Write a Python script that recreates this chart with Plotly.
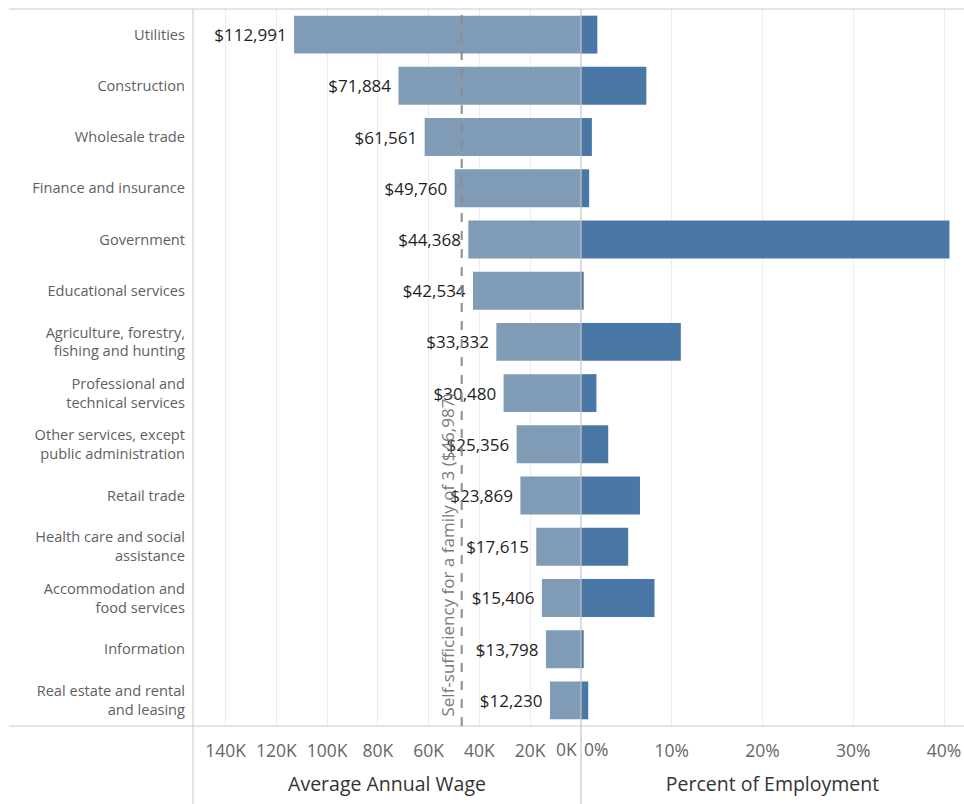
import plotly.graph_objects as go
from plotly.subplots import make_subplots

# Industries, top to bottom
industries = [
    "Utilities",
    "Construction",
    "Wholesale trade",
    "Finance and insurance",
    "Government",
    "Educational services",
    "Agriculture, forestry,<br>fishing and hunting",
    "Professional and<br>technical services",
    "Other services, except<br>public administration",
    "Retail trade",
    "Health care and social<br>assistance",
    "Accommodation and<br>food services",
    "Information",
    "Real estate and rental<br>and leasing",
]

# Average annual wage (USD)
avg_wage = [112991, 71884, 61561, 49760, 44368, 42534, 33332,
            30480, 25356, 23869, 17615, 15406, 13798, 12230]

# Share of total employment (%)
pct_employment = [1.8, 7.2, 1.2, 0.9, 40.6, 0.3, 11.0,
                  1.7, 3.0, 6.5, 5.2, 8.1, 0.3, 0.8]

# Self-sufficiency wage for a family of three
self_sufficiency = 46987

wage_ticks = [140000, 120000, 100000, 80000, 60000, 40000, 20000]
wage_ticktext = ["140K", "120K", "100K", "80K", "60K", "40K", "20K"]
pct_ticks = [10, 20, 30, 40]
pct_ticktext = ["10%", "20%", "30%", "40%"]

WAGE_COLOR = "#7f9bb5"
EMP_COLOR = "#4a78a6"
FONT = "Open Sans"

split = 388 / 771

fig = make_subplots(rows=1, cols=2, shared_yaxes=True, horizontal_spacing=0,
                    column_widths=[split, 1 - split])

fig.add_trace(go.Bar(
    y=industries, x=avg_wage, orientation="h",
    marker=dict(color=WAGE_COLOR, line=dict(width=0)),
    text=[f"${v:,}\u00a0" for v in avg_wage], textposition="outside",
    textfont=dict(family=FONT, size=17, color="#1e1e1e"),
    cliponaxis=False, hoverinfo="skip",
), row=1, col=1)

fig.add_trace(go.Bar(
    y=industries, x=pct_employment, orientation="h",
    marker=dict(color=EMP_COLOR, line=dict(width=0)),
    hoverinfo="skip",
), row=1, col=2)

fig.update_layout(
    width=964, height=804,
    margin=dict(l=193, r=0, t=9, b=78),
    paper_bgcolor="white", plot_bgcolor="white",
    showlegend=False, bargap=0.26,
    font=dict(family=FONT, color="#555"),
)

fig.update_yaxes(
    autorange="reversed", showgrid=False, zeroline=False,
    tickfont=dict(family=FONT, size=14.6, color="#5f5f5f"),
    ticklabelstandoff=7, ticks="",
)
fig.update_yaxes(showticklabels=False, row=1, col=2)

axis_common = dict(
    showgrid=True, gridcolor="#ececec", gridwidth=1, zeroline=False,
    showline=False, ticks="outside", ticklen=9, tickcolor="rgba(0,0,0,0)",
    tickfont=dict(family=FONT, size=17.5, color="#666"),
)
fig.update_xaxes(
    range=[152800, 0], tickvals=wage_ticks, ticktext=wage_ticktext,
    title=dict(text="Average Annual Wage", standoff=16,
               font=dict(family=FONT, size=19.5, color="#333")),
    row=1, col=1, **axis_common,
)
fig.update_xaxes(
    range=[0, 42.2], tickvals=pct_ticks, ticktext=pct_ticktext,
    title=dict(text="Percent of Employment", standoff=16,
               font=dict(family=FONT, size=19.5, color="#333")),
    row=1, col=2, **axis_common,
)

# Zero tick labels sit just inside the shared centre line
fig.add_annotation(text="0K", xref="paper", yref="paper", x=split, y=0,
                   xanchor="right", yanchor="top", xshift=-2, yshift=-9,
                   showarrow=False, font=dict(family=FONT, size=17.5, color="#666"))
fig.add_annotation(text="0%", xref="paper", yref="paper", x=split, y=0,
                   xanchor="left", yanchor="top", xshift=1, yshift=-9,
                   showarrow=False, font=dict(family=FONT, size=17.5, color="#666"))

# Frame lines: top and bottom rules, left divider and centre divider
line_style = dict(color="#c9c9c9", width=1)
left_edge = -184 / 771
below = -78 / 717
fig.add_shape(type="line", xref="paper", yref="paper", x0=left_edge, x1=1,
              y0=1, y1=1, line=line_style)
fig.add_shape(type="line", xref="paper", yref="paper", x0=left_edge, x1=1,
              y0=0, y1=0, line=line_style)
fig.add_shape(type="line", xref="paper", yref="paper", x0=0, x1=0,
              y0=below, y1=1, line=line_style)
fig.add_shape(type="line", xref="paper", yref="paper", x0=split, x1=split,
              y0=below, y1=1, line=dict(color="#c4c4c4", width=1.2), layer="above")

# Self-sufficiency reference line
fig.add_shape(type="line", xref="x", yref="paper", x0=self_sufficiency,
              x1=self_sufficiency, y0=0, y1=1,
              line=dict(color="#8c8c8c", width=2, dash="dash"), layer="above")
fig.add_annotation(text=f"Self-sufficiency for a family of 3 (${self_sufficiency:,})",
                   xref="x", yref="paper", x=self_sufficiency, y=0.01,
                   textangle=-90, xanchor="right", yanchor="bottom", xshift=-1,
                   showarrow=False, font=dict(family=FONT, size=17, color="#7a7a7a"))

fig.write_html("out.html")
